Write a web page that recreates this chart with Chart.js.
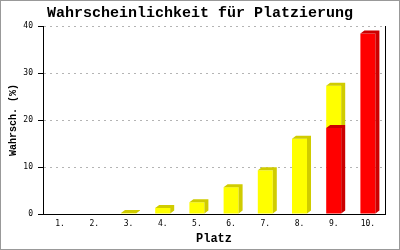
<!DOCTYPE html>
<html>
<head>
<meta charset="utf-8">
<script src="https://cdn.jsdelivr.net/npm/chart.js@4/dist/chart.umd.min.js"></script>
<style>
  html, body { margin: 0; padding: 0; background: #fff; }
  canvas { display: block; }
</style>
</head>
<body>
<canvas id="c" width="400" height="250"></canvas>
<script>
const categories = ['1.', '2.', '3.', '4.', '5.', '6.', '7.', '8.', '9.', '10.'];
const redValues = [0, 0, 0, 0, 0, 0, 0, 0, 18.3, 38.4];
const yellowValues = [0, 0, 0.2, 1.3, 2.5, 5.7, 9.3, 16.0, 9.0, 0];
const yTicks = [0, 10, 20, 30, 40];
const titleText = 'Wahrscheinlichkeit für Platzierung';
const xTitle = 'Platz';
const yTitle = 'Wahrsch. (%)';

const DX = 4, DY = 3;
const sideColors = ['#CC0000', '#D0CC00'];

const depthPlugin = {
  id: 'depth3d',
  afterDatasetDraw(chart, args) {
    const ctx = chart.ctx;
    const meta = args.meta;
    const data = chart.data.datasets[args.index].data;
    ctx.save();
    ctx.fillStyle = sideColors[args.index];
    meta.data.forEach((bar, i) => {
      if (!data[i]) return;
      const p = bar.getProps(['x', 'y', 'base', 'width'], true);
      const x0 = p.x - p.width / 2, x1 = p.x + p.width / 2;
      const top = Math.min(p.y, p.base), bot = Math.max(p.y, p.base);
      ctx.beginPath();
      ctx.moveTo(x1, bot);
      ctx.lineTo(x1, top);
      ctx.lineTo(x0, top);
      ctx.lineTo(x0 + DX, top - DY);
      ctx.lineTo(x1 + DX, top - DY);
      ctx.lineTo(x1 + DX, bot - DY);
      ctx.closePath();
      ctx.fill();
    });
    ctx.restore();
  }
};

const framePlugin = {
  id: 'frame',
  afterDraw(chart) {
    const ctx = chart.ctx;
    ctx.save();
    ctx.strokeStyle = '#999';
    ctx.lineWidth = 1;
    ctx.strokeRect(0.5, 0.5, chart.width - 1, chart.height - 1);
    ctx.restore();
  }
};

new Chart(document.getElementById('c'), {
  type: 'bar',
  data: {
    labels: categories,
    datasets: [
      { data: redValues, backgroundColor: '#FF0000', barThickness: 15, inflateAmount: 0, yAxisID: 'y' },
      { data: yellowValues, backgroundColor: '#FFFF00', barThickness: 15, inflateAmount: 0, yAxisID: 'y' }
    ]
  },
  options: {
    responsive: false,
    animation: false,
    devicePixelRatio: 1,
    layout: { padding: { left: 0, right: 0, top: 0, bottom: 0 } },
    plugins: {
      legend: { display: false },
      tooltip: { enabled: false },
      title: {
        display: true,
        text: titleText,
        color: '#000',
        font: { family: '"Liberation Mono", "DejaVu Sans Mono", monospace', size: 15, weight: 'bold', lineHeight: 1.2 },
        padding: { top: 4, bottom: 4 }
      }
    },
    scales: {
      x: {
        stacked: true,
        grid: { display: false, drawTicks: false },
        border: { display: true, color: '#000', width: 1 },
        ticks: {
          color: '#000',
          padding: 5,
          maxRotation: 0,
          font: { family: '"DejaVu Sans Mono", monospace', size: 8 }
        },
        title: {
          display: true,
          text: xTitle,
          color: '#000',
          font: { family: '"Liberation Mono", "DejaVu Sans Mono", monospace', size: 12, weight: 'bold', lineHeight: 1.2 },
          padding: { top: 0, bottom: 4 }
        },
        afterFit: s => { s.height = 36; }
      },
      y: {
        stacked: true,
        min: 0,
        max: 40,
        afterBuildTicks: s => { s.ticks = yTicks.map(v => ({ value: v })); },
        grid: {
          color: '#B4B4B4',
          tickColor: '#000',
          tickBorderDash: [],
          tickLength: 5,
          drawTicks: true
        },
        border: { display: true, color: '#000', width: 1, dash: [2, 4] },
        ticks: {
          color: '#000',
          padding: 5,
          font: { family: '"DejaVu Sans Mono", monospace', size: 8 }
        },
        title: {
          display: true,
          text: yTitle,
          color: '#000',
          font: { family: '"Liberation Mono", "DejaVu Sans Mono", monospace', size: 10, weight: 'bold', lineHeight: 1.2 },
          padding: { top: 7, bottom: 0 }
        },
        afterFit: s => { s.width = 43; }
      },
      y2: {
        position: 'right',
        min: 0,
        max: 40,
        grid: { display: false, drawTicks: false },
        border: { display: true, color: '#000', width: 1 },
        ticks: { display: false },
        afterFit: s => { s.width = 15; }
      }
    }
  },
  plugins: [depthPlugin, framePlugin]
});
</script>
</body>
</html>
